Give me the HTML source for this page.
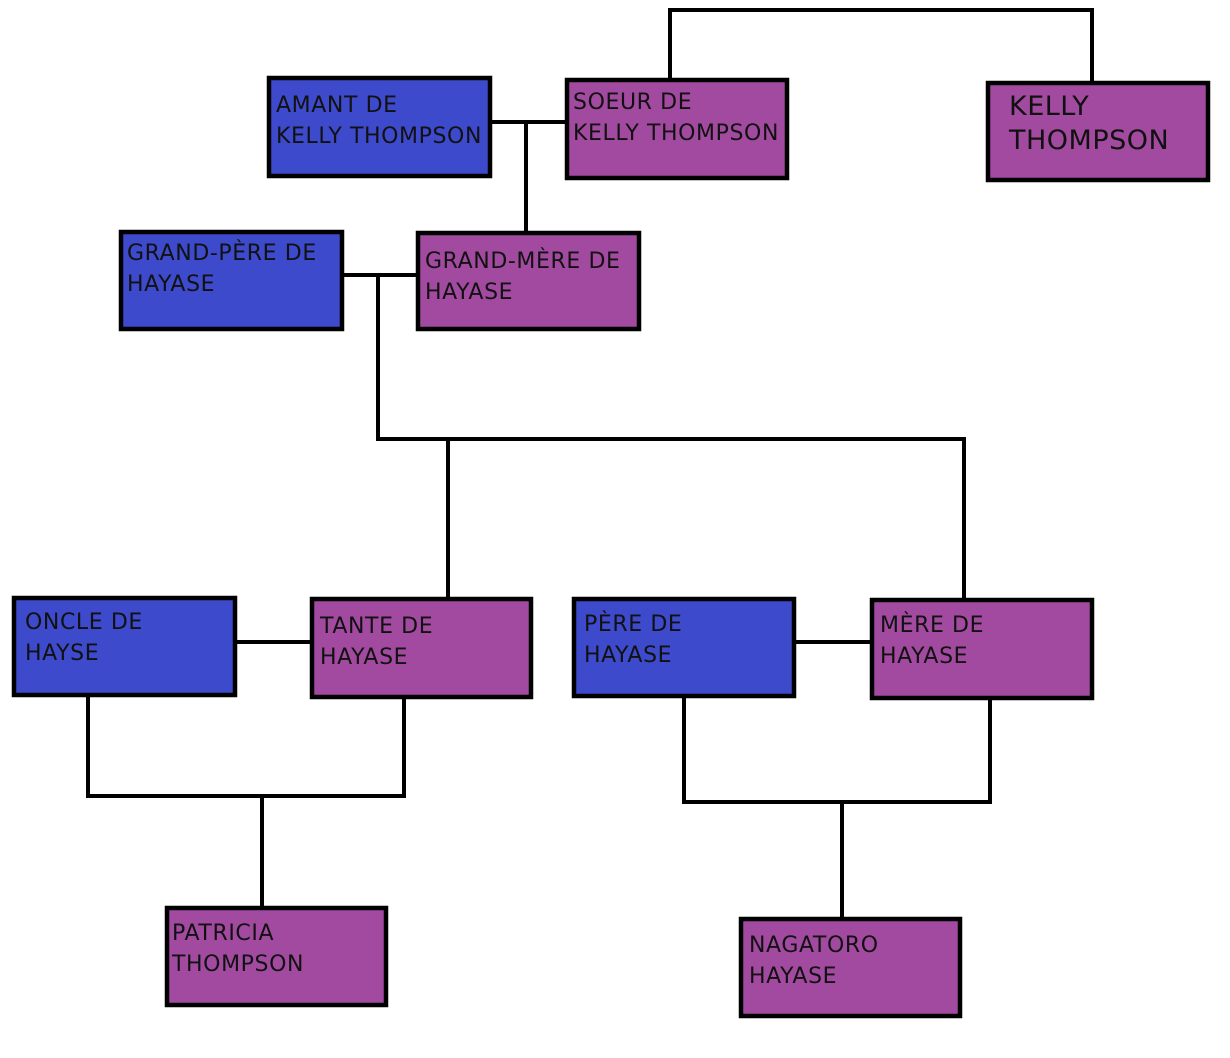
<!DOCTYPE html>
<html><head><meta charset="utf-8"><style>
html,body{margin:0;padding:0;background:#fff;}
svg{display:block}
text{font-family:"DejaVu Sans","Liberation Sans",sans-serif;font-size:22px;letter-spacing:0.6px;fill:#111;}
</style></head><body>
<svg width="1230" height="1058" viewBox="0 0 1230 1058" xmlns="http://www.w3.org/2000/svg">
<g stroke="#000" stroke-width="4" fill="none">
<polyline points="670,78 670,10 1092,10 1092,81"/>
<line x1="492" y1="122" x2="565" y2="122"/>
<line x1="526" y1="122" x2="526" y2="231"/>
<line x1="344" y1="275" x2="416" y2="275"/>
<polyline points="378,275 378,439 964,439 964,598"/>
<line x1="448" y1="439" x2="448" y2="597"/>
<line x1="237" y1="642" x2="310" y2="642"/>
<line x1="796" y1="642" x2="870" y2="642"/>
<polyline points="88,697 88,796 404,796 404,699"/>
<line x1="262" y1="796" x2="262" y2="906"/>
<polyline points="684,698 684,802 990,802 990,700"/>
<line x1="842" y1="802" x2="842" y2="917"/>
</g>
<g stroke="#000" stroke-width="4.5">
<rect x="269" y="78" width="221" height="98" fill="#3d4acb"/>
<rect x="567" y="80" width="220" height="98" fill="#a24aa0"/>
<rect x="988" y="83" width="220" height="97" fill="#a24aa0"/>
<rect x="121" y="232" width="221" height="97" fill="#3d4acb"/>
<rect x="418" y="233" width="221" height="96" fill="#a24aa0"/>
<rect x="14" y="598" width="221" height="97" fill="#3d4acb"/>
<rect x="312" y="599" width="219" height="98" fill="#a24aa0"/>
<rect x="574" y="599" width="220" height="97" fill="#3d4acb"/>
<rect x="872" y="600" width="220" height="98" fill="#a24aa0"/>
<rect x="167" y="908" width="219" height="97" fill="#a24aa0"/>
<rect x="741" y="919" width="219" height="97" fill="#a24aa0"/>
</g>
<text x="276" y="112">AMANT DE</text><text x="276" y="143">KELLY THOMPSON</text>
<text x="573" y="109">SOEUR DE</text><text x="573" y="140">KELLY THOMPSON</text>
<text x="1009" y="115" style="font-size:27px;letter-spacing:0.5px">KELLY</text><text x="1009" y="149" style="font-size:27px;letter-spacing:0.5px">THOMPSON</text>
<text x="127" y="260">GRAND-PÈRE DE</text><text x="127" y="291">HAYASE</text>
<text x="425" y="268">GRAND-MÈRE DE</text><text x="425" y="299">HAYASE</text>
<text x="25" y="629">ONCLE DE</text><text x="25" y="660">HAYSE</text>
<text x="320" y="633">TANTE DE</text><text x="320" y="664">HAYASE</text>
<text x="584" y="631">PÈRE DE</text><text x="584" y="662">HAYASE</text>
<text x="880" y="632">MÈRE DE</text><text x="880" y="663">HAYASE</text>
<text x="172" y="940">PATRICIA</text><text x="172" y="971">THOMPSON</text>
<text x="749" y="952">NAGATORO</text><text x="749" y="983">HAYASE</text>
</svg>
</body></html>
